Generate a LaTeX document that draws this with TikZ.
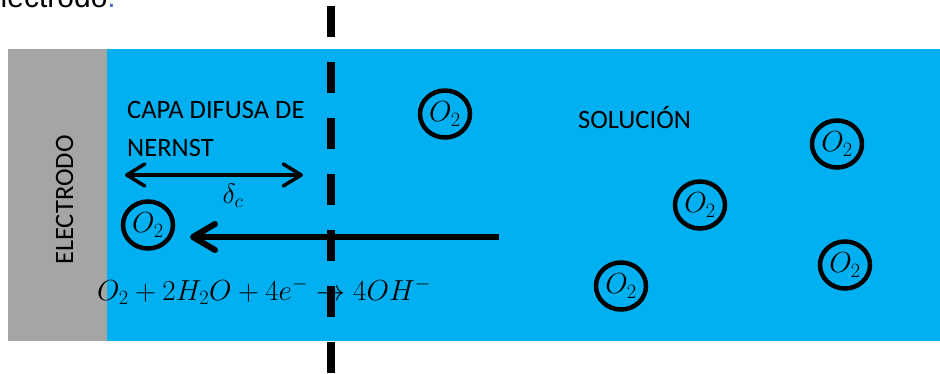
\RequirePackage{fix-cm}
\documentclass[tikz,border=0pt]{standalone}
\usepackage{fontspec}
\setmainfont{Carlito}
\newfontfamily\arialfont{Liberation Sans}
\usetikzlibrary{arrows.meta,shapes.geometric}
\definecolor{solblue}{HTML}{00B0F0}
\definecolor{elgray}{HTML}{A5A5A5}
\definecolor{dotblue}{HTML}{4472C4}
\begin{document}
\begin{tikzpicture}[x=1pt,y=-1pt,
  lbl/.style={inner sep=0pt, font=\fontsize{26.5}{30}\selectfont},
  mol/.style={draw=black, line width=4.5pt, ellipse, minimum width=50pt, minimum height=47pt, inner sep=0pt, font=\fontsize{29}{34}\selectfont},
  thinarrow/.style={line width=3.5pt, line cap=round, {Straight Barb[length=18pt,width=22pt,round]}-{Straight Barb[length=18pt,width=22pt,round]}},
  bigarrow/.style={line width=6pt, -{Straight Barb[length=22pt,width=26pt,round]}},
  boundary/.style={line width=8pt, dash pattern=on 31pt off 25pt}
]
\useasboundingbox[fill=white] (0,0) rectangle (940,373);
% regions
\fill[elgray] (8,49) rectangle (107,341);
\fill[solblue] (107,49) rectangle (940,341);
% cut-off text at top
\node[inner sep=0pt, anchor=base east, font=\arialfont\fontsize{30}{34}\selectfont] (top) at (116,7) {electrodo\textcolor{dotblue}{.}};
% labels
\node[lbl, rotate=90, anchor=base] (electrodo) at (73,200) {ELECTRODO};
\node[lbl, anchor=base west] (capa1) at (127,118) {CAPA DIFUSA DE};
\node[lbl, anchor=base west] (capa2) at (127,156) {NERNST};
\node[lbl, anchor=base west] (sol) at (578,128) {SOLUCIÓN};
\node[lbl, font=\fontsize{28}{32}\selectfont] (delta) at (233,196) {$\delta_c$};
% molecules
\node[mol] (mL) at (148,225) {$O_2$};
\node[mol] (mA) at (445,114) {$O_2$};
\node[mol] (mB) at (837,144) {$O_2$};
\node[mol] (mC) at (700,205) {$O_2$};
\node[mol] (mD) at (845,265) {$O_2$};
\node[mol] (mE) at (621,286) {$O_2$};
% equation
\node[inner sep=0pt, anchor=base west, font=\fontsize{29}{34}\selectfont] (eq) at (97,300) {$O_2+2H_2O+4e^{-}\rightarrow 4OH^{-}$};
% arrows
\coordinate (dl) at (125,175);
\coordinate (dr) at (303,175);
\draw[thinarrow] (dl) -- (dr);
\coordinate (fs) at (499,237);
\coordinate (fe) at (190,237);
\draw[bigarrow] (fs) -- (fe);
% boundary of diffusion layer
\coordinate (bt) at (331,6);
\coordinate (bb) at (331,380);
\draw[boundary] (bt) -- (bb);
\end{tikzpicture}
\end{document}
